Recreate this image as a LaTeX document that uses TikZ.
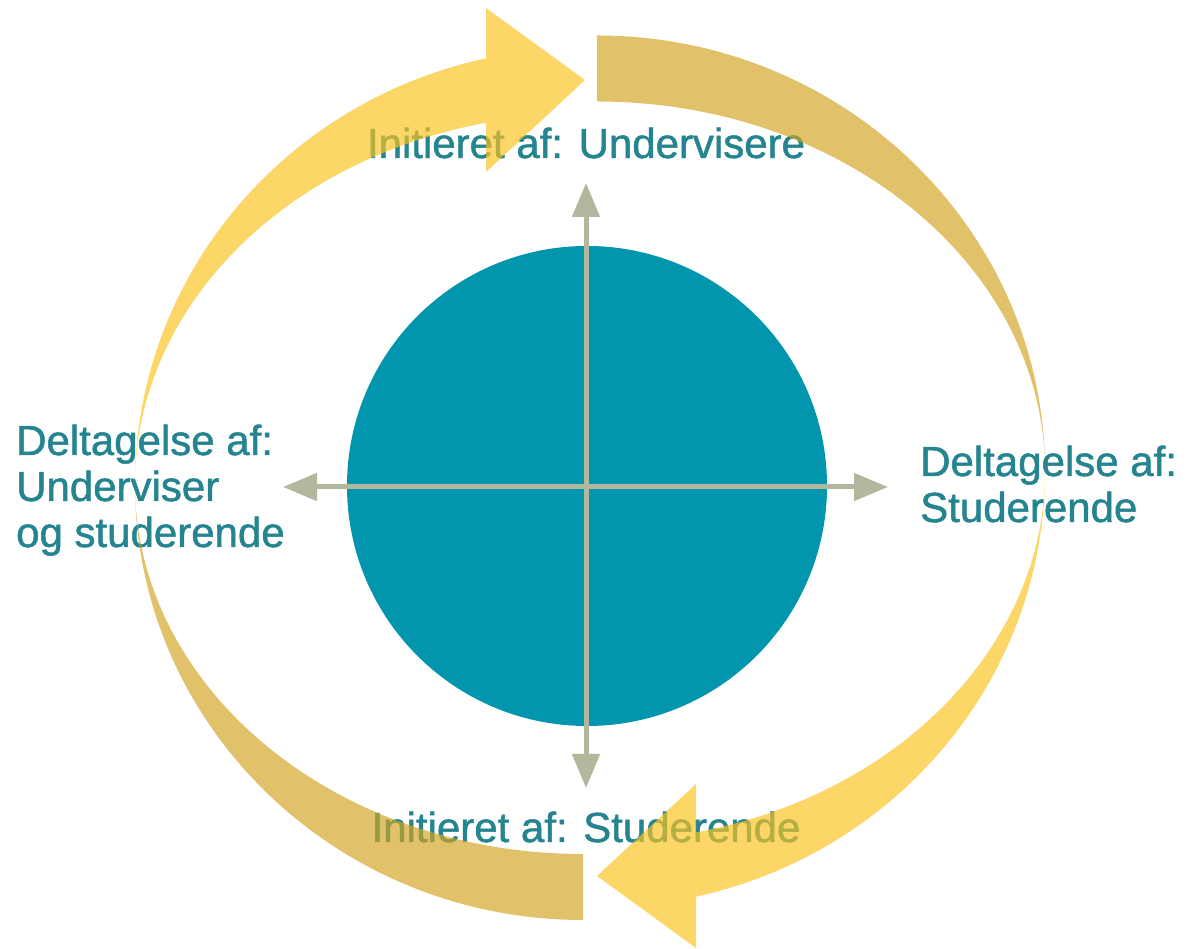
\documentclass[tikz,border=0pt]{standalone}
\usepackage{fontspec}
\setmainfont{Liberation Sans}
\newfontfamily\labfont[FakeBold=1.2]{Liberation Sans}
\usetikzlibrary{arrows.meta}
\definecolor{disc}{RGB}{1,150,174}
\definecolor{axiscol}{RGB}{178,184,158}
\definecolor{lbl}{RGB}{36,132,143}
\definecolor{brightY}{RGB}{253,195,30}
\definecolor{goldY}{RGB}{211,164,32}
\begin{document}
\begin{tikzpicture}[x=1pt,y=1pt,
  lab/.style={text=lbl, font=\labfont\fontsize{42}{46}\selectfont, inner sep=0pt},
  band/.style={fill opacity=0.67, draw=none},
  axisline/.style={draw=axiscol, line width=5pt, -{Triangle[length=34pt,width=27pt]}}]
\useasboundingbox (0,0) rectangle (1187,949);
\fill[white] (0,0) rectangle (1187,949);
% central disc
\node[circle, fill=disc, minimum size=480pt, inner sep=0pt] (disc) at (587,463) {};
% axes
\coordinate (o) at (586,462);
\coordinate (up) at (586,766);
\coordinate (down) at (586,161);
\coordinate (left) at (283,462);
\coordinate (right) at (888,462);
\draw[axisline] (o) -- (up);
\draw[axisline] (o) -- (down);
\draw[axisline] (o) -- (left);
\draw[axisline] (o) -- (right);
% labels
\node[lab, anchor=base] (ltop) at (586,791) {Initieret af: Undervisere};
\node[lab, anchor=base] (lbot) at (586,107) {Initieret af: Studerende};
\node[lab, anchor=base west, align=left] (lleft) at (16,402) {Deltagelse af:\\Underviser\\og studerende};
\node[lab, anchor=base west, align=left] (lright) at (920,427) {Deltagelse af:\\Studerende};
% left cycle arrow
\fill[band, brightY] (135,465) arc[start angle=180, end angle=102.5, x radius=448pt, y radius=436pt]
  -- (486,941) -- (585,869) -- (486,777) -- (486,826.2)
  arc[start angle=102.5, end angle=180, x radius=448pt, y radius=370pt] -- cycle;
\fill[band, goldY] (135,465) arc[start angle=180, end angle=270, x radius=448pt, y radius=436pt]
  -- (583,95) arc[start angle=270, end angle=180, x radius=448pt, y radius=370pt] -- cycle;
% right cycle arrow
\fill[band, goldY] (597,913.5) arc[start angle=90, end angle=0, x radius=448pt, y radius=436pt]
  -- (1045,477.5) arc[start angle=0, end angle=90, x radius=448pt, y radius=370pt] -- cycle;
\fill[band, brightY] (1045,477.5) arc[start angle=0, end angle=-77.23, x radius=448pt, y radius=436pt]
  -- (696,1) -- (597,73) -- (696,165) -- (696,116.6)
  arc[start angle=-77.23, end angle=0, x radius=448pt, y radius=370pt] -- cycle;
\end{tikzpicture}
\end{document}
